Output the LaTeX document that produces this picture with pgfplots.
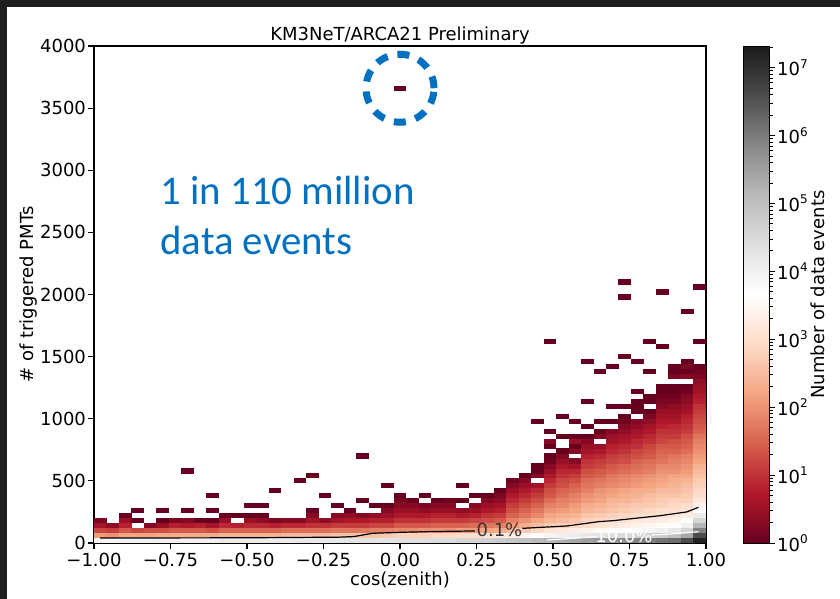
\documentclass[border=0pt]{standalone}
\usepackage{pgfplots}
\pgfplotsset{compat=1.18}
\usepackage{pgfplotstable}
\usepackage{fontspec}
\setmainfont{DejaVu Sans}
\newfontfamily\calibri{Carlito}
\definecolor{pptblue}{RGB}{0,112,192}
\definecolor{framedark}{RGB}{30,30,30}
\pgfdeclareplotmark{cell}{\pgfpathrectangle{\pgfpoint{-3.17pt}{-1.29pt}}{\pgfpoint{6.34pt}{2.58pt}}\pgfusepathqfill}

% i = cos(zenith) bin (49 bins on [-1,1]), j = PMT bin (40 wide), c = log10(count)
\pgfplotstableread[row sep=\\]{
i j c\\
0 0 3.9\\0 1 2.1\\0 2 1.2\\0 3 0.6\\0 4 0.2\\
1 0 3.9\\1 1 2.0\\1 2 1.1\\1 3 0.4\\
2 0 4.0\\2 1 2.2\\2 2 1.4\\2 3 0.8\\2 4 0.5\\2 5 0.0\\
3 0 4.0\\3 1 2.2\\3 2 1.2\\3 4 0.0\\3 6 0.0\\
4 0 4.0\\4 1 2.2\\4 2 1.3\\4 3 0.3\\
5 0 4.0\\5 1 2.3\\5 2 1.3\\5 3 0.5\\5 4 0.0\\5 6 0.0\\
6 0 4.0\\6 1 2.3\\6 2 1.4\\6 3 0.8\\6 4 0.2\\
7 0 4.0\\7 1 2.3\\7 2 1.4\\7 3 0.7\\7 4 0.3\\7 6 0.0\\7 14 0.0\\
8 0 4.0\\8 1 2.3\\8 2 1.4\\8 3 0.8\\8 4 0.0\\
9 0 4.0\\9 1 2.3\\9 2 1.3\\9 3 0.6\\9 4 0.0\\9 6 0.0\\9 9 0.0\\
10 0 4.1\\10 1 2.4\\10 2 1.5\\10 3 0.9\\10 4 0.5\\10 5 0.0\\
11 0 4.1\\11 1 2.4\\11 2 1.5\\11 3 0.8\\11 5 0.0\\
12 0 4.1\\12 1 2.4\\12 2 1.5\\12 3 0.9\\12 4 0.5\\12 5 0.0\\12 7 0.0\\
13 0 4.1\\13 1 2.4\\13 2 1.5\\13 3 0.9\\13 4 0.4\\13 5 0.0\\13 7 0.0\\
14 0 4.1\\14 1 2.4\\14 2 1.5\\14 3 0.8\\14 4 0.2\\14 10 0.0\\
15 0 4.1\\15 1 2.5\\15 2 1.6\\15 3 0.9\\15 4 0.3\\
16 0 4.2\\16 1 2.5\\16 2 1.6\\16 3 0.9\\16 4 0.3\\16 12 0.0\\
17 0 4.2\\17 1 2.5\\17 2 1.6\\17 3 1.0\\17 4 0.6\\17 5 0.3\\17 6 0.0\\17 13 0.0\\
18 0 4.2\\18 1 2.5\\18 2 1.6\\18 3 1.0\\18 4 0.4\\18 9 0.0\\
19 0 4.2\\19 1 2.6\\19 2 1.7\\19 3 1.1\\19 4 0.6\\19 5 0.3\\19 7 0.0\\
20 0 4.3\\20 1 2.6\\20 2 1.7\\20 3 1.1\\20 4 0.7\\20 5 0.4\\20 6 0.0\\
21 0 4.3\\21 1 2.6\\21 2 1.7\\21 3 1.1\\21 4 0.7\\21 5 0.3\\21 8 0.0\\21 17 0.0\\
22 0 4.3\\22 1 2.6\\22 2 1.8\\22 3 1.2\\22 4 0.8\\22 5 0.4\\22 7 0.0\\
23 0 4.3\\23 1 2.7\\23 2 1.8\\23 3 1.2\\23 4 0.8\\23 5 0.5\\23 6 0.3\\23 7 0.0\\23 11 0.0\\
24 0 4.4\\24 1 2.8\\24 2 1.9\\24 3 1.4\\24 4 1.0\\24 5 0.7\\24 6 0.5\\24 7 0.3\\24 8 0.2\\24 9 0.0\\24 91 0.0\\
25 0 4.4\\25 1 2.8\\25 2 1.9\\25 3 1.4\\25 4 1.0\\25 5 0.7\\25 6 0.5\\25 7 0.3\\25 8 0.0\\
26 0 4.4\\26 1 2.8\\26 2 2.0\\26 3 1.4\\26 4 1.0\\26 5 0.7\\26 6 0.4\\26 7 0.2\\26 9 0.0\\
27 0 4.5\\27 1 2.9\\27 2 2.0\\27 3 1.5\\27 4 1.1\\27 5 0.8\\27 6 0.5\\27 7 0.3\\27 8 0.0\\
28 0 4.5\\28 1 2.9\\28 2 2.0\\28 3 1.5\\28 4 1.1\\28 5 0.8\\28 6 0.5\\28 7 0.3\\28 8 0.1\\
29 0 4.6\\29 1 3.0\\29 2 2.1\\29 3 1.5\\29 4 1.1\\29 5 0.7\\29 6 0.4\\29 8 0.0\\29 11 0.0\\
30 0 4.6\\30 1 3.0\\30 2 2.1\\30 3 1.6\\30 4 1.2\\30 5 0.8\\30 6 0.5\\30 7 0.3\\30 9 0.0\\
31 0 4.7\\31 1 3.1\\31 2 2.2\\31 3 1.7\\31 4 1.3\\31 5 1.0\\31 6 0.7\\31 7 0.5\\31 8 0.3\\31 9 0.0\\
32 0 4.8\\32 1 3.2\\32 2 2.3\\32 3 1.8\\32 4 1.4\\32 5 1.1\\32 6 0.8\\32 7 0.6\\32 8 0.4\\32 9 0.2\\32 10 0.0\\
33 0 4.9\\33 1 3.3\\33 2 2.5\\33 3 2.1\\33 4 1.8\\33 5 1.5\\33 6 1.3\\33 7 1.1\\33 8 0.9\\33 9 0.7\\33 10 0.5\\33 11 0.3\\33 12 0.1\\
34 0 5.0\\34 1 3.5\\34 2 2.7\\34 3 2.3\\34 4 2.0\\34 5 1.7\\34 6 1.5\\34 7 1.3\\34 8 1.1\\34 9 0.9\\34 10 0.7\\34 11 0.5\\34 12 0.3\\34 13 0.0\\
35 0 5.1\\35 1 3.7\\35 2 2.9\\35 3 2.5\\35 4 2.2\\35 5 1.9\\35 6 1.7\\35 7 1.5\\35 8 1.3\\35 9 1.1\\35 10 0.9\\35 11 0.6\\35 13 0.3\\35 14 0.0\\35 15 0.0\\35 24 0.0\\
36 0 5.2\\36 1 3.9\\36 2 3.1\\36 3 2.7\\36 4 2.4\\36 5 2.2\\36 6 2.0\\36 7 1.8\\36 8 1.6\\36 9 1.4\\36 10 1.3\\36 11 1.1\\36 12 0.9\\36 13 0.7\\36 14 0.5\\36 15 0.3\\36 16 0.1\\36 17 0.0\\36 19 0.0\\36 20 0.3\\36 22 0.0\\36 40 0.0\\
37 0 5.3\\37 1 4.0\\37 2 3.2\\37 3 2.8\\37 4 2.5\\37 5 2.3\\37 6 2.1\\37 7 1.9\\37 8 1.8\\37 9 1.6\\37 10 1.5\\37 11 1.3\\37 12 1.2\\37 13 1.0\\37 14 0.9\\37 15 0.7\\37 16 0.5\\37 17 0.3\\37 18 0.0\\37 21 0.0\\37 25 0.0\\
38 0 5.4\\38 1 4.1\\38 2 3.3\\38 3 2.9\\38 4 2.6\\38 5 2.4\\38 6 2.2\\38 7 2.1\\38 8 1.9\\38 9 1.8\\38 10 1.6\\38 11 1.5\\38 12 1.3\\38 13 1.1\\38 14 0.9\\38 15 0.6\\38 16 0.3\\38 18 0.3\\38 19 0.0\\38 20 0.5\\38 21 0.0\\38 24 0.0\\
39 0 5.5\\39 1 4.2\\39 2 3.4\\39 3 3.0\\39 4 2.8\\39 5 2.6\\39 6 2.4\\39 7 2.3\\39 8 2.1\\39 9 2.0\\39 10 1.8\\39 11 1.7\\39 12 1.6\\39 13 1.4\\39 14 1.3\\39 15 1.1\\39 16 1.0\\39 17 0.8\\39 18 0.6\\39 19 0.5\\39 20 0.3\\39 21 0.0\\39 23 0.0\\39 28 0.0\\39 36 0.0\\
40 0 5.6\\40 1 4.3\\40 2 3.5\\40 3 3.1\\40 4 2.9\\40 5 2.7\\40 6 2.5\\40 7 2.4\\40 8 2.2\\40 9 2.1\\40 10 2.0\\40 11 1.8\\40 12 1.7\\40 13 1.5\\40 14 1.4\\40 15 1.2\\40 16 1.1\\40 17 0.9\\40 18 0.7\\40 19 0.5\\40 21 0.3\\40 22 0.0\\40 24 0.0\\40 34 0.0\\
41 0 5.7\\41 1 4.4\\41 2 3.6\\41 3 3.2\\41 4 3.0\\41 5 2.8\\41 6 2.6\\41 7 2.5\\41 8 2.4\\41 9 2.2\\41 10 2.1\\41 11 1.9\\41 12 1.8\\41 13 1.7\\41 14 1.5\\41 15 1.4\\41 16 1.2\\41 17 1.1\\41 18 0.9\\41 19 0.8\\41 20 0.6\\41 21 0.5\\41 22 0.3\\41 24 0.0\\41 27 0.0\\41 35 0.0\\
42 0 5.8\\42 1 4.5\\42 2 3.7\\42 3 3.3\\42 4 3.1\\42 5 2.9\\42 6 2.7\\42 7 2.6\\42 8 2.4\\42 9 2.3\\42 10 2.2\\42 11 2.0\\42 12 1.9\\42 13 1.8\\42 14 1.6\\42 15 1.5\\42 16 1.3\\42 17 1.2\\42 18 1.0\\42 19 0.9\\42 20 0.7\\42 21 0.6\\42 22 0.4\\42 23 0.3\\42 24 0.1\\42 25 0.0\\42 27 0.0\\42 37 0.0\\42 49 0.0\\42 52 0.0\\
43 0 5.9\\43 1 4.6\\43 2 3.8\\43 3 3.4\\43 4 3.2\\43 5 3.0\\43 6 2.8\\43 7 2.7\\43 8 2.5\\43 9 2.4\\43 10 2.3\\43 11 2.1\\43 12 2.0\\43 13 1.9\\43 14 1.7\\43 15 1.6\\43 16 1.5\\43 17 1.3\\43 18 1.2\\43 19 1.0\\43 20 0.9\\43 21 0.7\\43 22 0.6\\43 23 0.4\\43 24 0.3\\43 26 0.0\\43 27 0.0\\43 28 0.0\\43 30 0.0\\43 36 0.0\\
44 0 6.0\\44 1 4.7\\44 2 3.9\\44 3 3.5\\44 4 3.2\\44 5 3.0\\44 6 2.9\\44 7 2.7\\44 8 2.6\\44 9 2.5\\44 10 2.3\\44 11 2.2\\44 12 2.1\\44 13 2.0\\44 14 1.8\\44 15 1.7\\44 16 1.6\\44 17 1.4\\44 18 1.3\\44 19 1.2\\44 20 1.0\\44 21 0.9\\44 22 0.7\\44 23 0.6\\44 24 0.4\\44 25 0.2\\44 26 0.0\\44 28 0.0\\44 29 0.0\\44 34 0.0\\44 40 0.0\\
45 0 6.1\\45 1 4.8\\45 2 4.0\\45 3 3.6\\45 4 3.3\\45 5 3.1\\45 6 3.0\\45 7 2.8\\45 8 2.7\\45 9 2.6\\45 10 2.5\\45 11 2.3\\45 12 2.2\\45 13 2.1\\45 14 2.0\\45 15 1.9\\45 16 1.7\\45 17 1.6\\45 18 1.5\\45 19 1.4\\45 20 1.2\\45 21 1.1\\45 22 1.0\\45 23 0.8\\45 24 0.7\\45 25 0.6\\45 26 0.5\\45 27 0.3\\45 28 0.2\\45 29 0.1\\45 30 0.0\\45 31 0.0\\45 39 0.0\\45 50 0.0\\
46 0 6.2\\46 1 5.0\\46 2 4.2\\46 3 3.7\\46 4 3.4\\46 5 3.2\\46 6 3.0\\46 7 2.9\\46 8 2.8\\46 9 2.6\\46 10 2.5\\46 11 2.4\\46 12 2.3\\46 13 2.2\\46 14 2.0\\46 15 1.9\\46 16 1.8\\46 17 1.7\\46 18 1.5\\46 19 1.4\\46 20 1.3\\46 21 1.1\\46 22 1.0\\46 23 0.9\\46 24 0.7\\46 25 0.6\\46 26 0.5\\46 27 0.4\\46 28 0.2\\46 29 0.1\\46 30 0.0\\46 31 0.0\\46 33 0.2\\46 34 0.0\\46 35 0.0\\
47 0 6.6\\47 1 5.4\\47 2 4.6\\47 3 4.0\\47 4 3.6\\47 5 3.3\\47 6 3.1\\47 7 3.0\\47 8 2.8\\47 9 2.7\\47 10 2.6\\47 11 2.5\\47 12 2.4\\47 13 2.2\\47 14 2.1\\47 15 2.0\\47 16 1.9\\47 17 1.8\\47 18 1.6\\47 19 1.5\\47 20 1.4\\47 21 1.3\\47 22 1.1\\47 23 1.0\\47 24 0.9\\47 25 0.8\\47 26 0.6\\47 27 0.5\\47 28 0.4\\47 29 0.3\\47 30 0.1\\47 31 0.0\\47 33 0.3\\47 34 0.0\\47 35 0.2\\47 36 0.0\\47 46 0.0\\
48 0 7.2\\48 1 6.6\\48 2 5.9\\48 3 5.2\\48 4 4.6\\48 5 4.1\\48 6 3.7\\48 7 3.4\\48 8 3.2\\48 9 3.0\\48 10 2.9\\48 11 2.8\\48 12 2.7\\48 13 2.6\\48 14 2.5\\48 15 2.4\\48 16 2.2\\48 17 2.1\\48 18 2.0\\48 19 1.9\\48 20 1.8\\48 21 1.7\\48 22 1.5\\48 23 1.4\\48 24 1.3\\48 25 1.2\\48 26 1.1\\48 27 1.0\\48 28 0.8\\48 29 0.7\\48 30 0.6\\48 31 0.5\\48 32 0.4\\48 33 0.2\\48 34 0.1\\48 35 0.0\\48 40 0.0\\48 51 0.0\\
}\cells

\begin{document}
\begin{tikzpicture}
\fill[white] (0,0) rectangle (420pt,-299.5pt);
\fill[framedark] (0,0) rectangle (420pt,-3.5pt);
\fill[framedark] (0,0) rectangle (3.5pt,-299.5pt);
\path[use as bounding box] (0,0) rectangle (420pt,-299.5pt);
\begin{axis}[
  at={(47pt,-271.5pt)}, anchor=south west,
  scale only axis, width=306pt, height=248.5pt,
  xmin=-1, xmax=1, ymin=0, ymax=4000,
  xtick={-1,-0.75,-0.5,-0.25,0,0.25,0.5,0.75,1},
  xticklabels={−1.00,−0.75,−0.50,−0.25,0.00,0.25,0.50,0.75,1.00},
  xticklabel style={yshift=1.5pt},
  ytick={0,500,1000,1500,2000,2500,3000,3500,4000},
  yticklabels={0,500,1000,1500,2000,2500,3000,3500,4000},
  yticklabel style={xshift=2.5pt},
  tick align=outside, tick pos=left,
  major tick length=3pt,
  every tick/.style={black, line width=0.6pt},
  axis line style={line width=0.6pt},
  font=\fontsize{9}{10.8}\selectfont,
  title={KM3NeT/ARCA21 Preliminary},
  title style={at={(0.5,1)}, anchor=base, yshift=-3pt},
  xlabel={cos(zenith)}, ylabel={\# of triggered PMTs},
  xlabel style={yshift=4.5pt},
  ylabel style={yshift=-5.5pt},
  colormap={rdgy}{rgb255(0)=(103,0,31) rgb255(1)=(178,24,43) rgb255(2)=(214,96,77) rgb255(3)=(244,165,130) rgb255(4)=(253,219,199) rgb255(5)=(255,255,255) rgb255(6)=(224,224,224) rgb255(7)=(186,186,186) rgb255(8)=(135,135,135) rgb255(9)=(77,77,77) rgb255(10)=(26,26,26)},
  point meta min=0, point meta max=7.32,
  colorbar,
  colorbar style={
    at={(parent axis.north east)}, anchor=north west, xshift=10pt,
    scale only axis, width=13pt, height=248.5pt,
    font=\fontsize{9}{10.8}\selectfont,
    ytick={0,1,2,3,4,5,6,7},
    yticklabels={10\textsuperscript{0},10\textsuperscript{1},10\textsuperscript{2},10\textsuperscript{3},10\textsuperscript{4},10\textsuperscript{5},10\textsuperscript{6},10\textsuperscript{7}},
    yticklabel style={xshift=-2.5pt},
    minor ytick={0.301,0.477,0.602,0.699,0.778,0.845,0.903,0.954,1.301,1.477,1.602,1.699,1.778,1.845,1.903,1.954,2.301,2.477,2.602,2.699,2.778,2.845,2.903,2.954,3.301,3.477,3.602,3.699,3.778,3.845,3.903,3.954,4.301,4.477,4.602,4.699,4.778,4.845,4.903,4.954,5.301,5.477,5.602,5.699,5.778,5.845,5.903,5.954,6.301,6.477,6.602,6.699,6.778,6.845,6.903,6.954,7.301},
    yticklabel pos=right, ytick pos=right, tick align=outside,
    major tick length=3pt, minor tick length=1.8pt,
    every tick/.style={black, line width=0.5pt},
    axis line style={line width=0.4pt},
    ylabel={Number of data events},
    ylabel style={at={(axis description cs:1,0.5)}, anchor=center, yshift=-24.5pt},
  },
]
\addplot[scatter, only marks, mark=cell, point meta=explicit, clip marker paths=true,
  scatter/use mapped color={draw=mapped color, fill=mapped color}]
  table[x expr={-1+(\thisrow{i}+0.5)*2/49}, y expr={40*\thisrow{j}+20}, meta=c]{\cells};
% 0.1% contour (black)
\addplot[black, line width=0.6pt, no marks] coordinates {(-0.98,40) (-0.5,42) (-0.2,47) (-0.15,52) (-0.09,78) (0.0,86) (0.1,92) (0.245,97)};
\addplot[black, line width=0.6pt, no marks] coordinates {(0.40,118) (0.545,137) (0.65,172) (0.697,180) (0.85,220) (0.937,250) (0.975,287)};
% 10.0% contour (white)
\addplot[white, line width=0.6pt, no marks] coordinates {(0.479,24) (0.55,35) (0.643,51)};
\addplot[white, line width=0.6pt, no marks] coordinates {(0.822,64) (0.90,75) (0.975,91)};
\node[text=black!80] at (axis cs:0.325,105) {0.1\%};
\node[text=white] at (axis cs:0.732,59) {10.0\%};
\draw[pptblue, line width=3.5pt, dash pattern=on 6pt off 5pt] (axis cs:0,3660) circle[radius=17pt];
\node[text=pptblue, anchor=base west, align=left, font=\calibri\fontsize{20.4}{25}\selectfont, inner sep=0pt] at (axis cs:-0.784,2318) {1 in 110 million\\data events};
\end{axis}
\end{tikzpicture}
\end{document}
